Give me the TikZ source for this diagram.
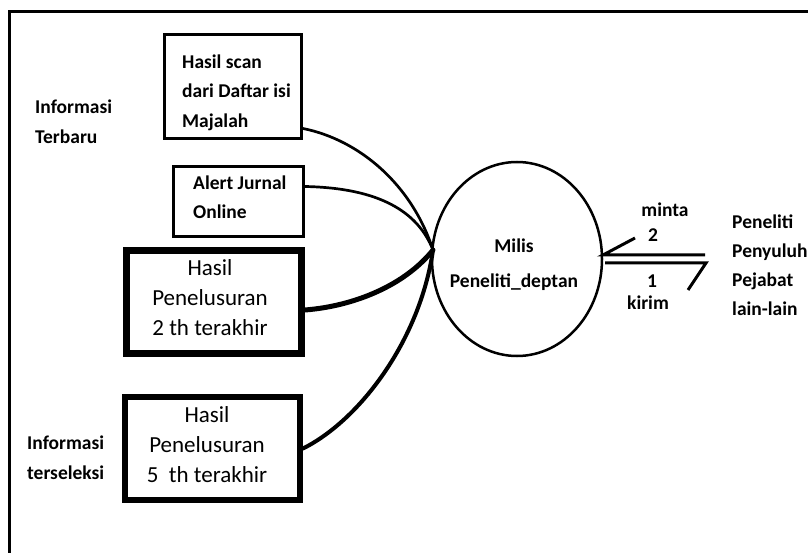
\documentclass[tikz,border=0pt]{standalone}
\usepackage{fontspec}
\setmainfont{Carlito}
\usetikzlibrary{shapes.geometric}
\begin{document}
\begin{tikzpicture}[x=1pt,y=-1pt,
  small/.style={font=\fontsize{19.5}{29.5}\selectfont\bfseries, inner sep=0pt, align=left},
  smallmid/.style={font=\fontsize{19.5}{23}\selectfont\bfseries, inner sep=0pt, align=center},
  big/.style={font=\fontsize{23}{30}\selectfont, inner sep=0pt, align=center},
  boxshape/.style={draw, rectangle, inner sep=0pt},
  link/.style={line cap=round}
]
\useasboundingbox (0,0) rectangle (808,553);
% outer frame (only left and top edges are visible)
\draw[line width=3pt] (9.5,553) -- (9.5,11.5) -- (808,11.5);

% boxes
\node[boxshape, line width=3pt, minimum width=137pt, minimum height=104pt] (b1) at (233,86.5) {};
\node[boxshape, line width=3pt, minimum width=130pt, minimum height=70pt] (b2) at (238.5,201.5) {};
\node[boxshape, line width=7pt, minimum width=175pt, minimum height=103pt] (b3) at (214,302) {};
\node[boxshape, line width=6pt, minimum width=175pt, minimum height=103pt] (b4) at (212.5,448.5) {};

% box texts
\node[small, anchor=west] (t1) at (182,92.5) {Hasil scan\\dari Daftar isi\\Majalah};
\node[small, anchor=west] (t2) at (193,197) {Alert Jurnal\\Online};
\node[big] (t3) at (210,298) {Hasil\\Penelusuran\\2 th terakhir};
\node[big] (t4) at (207,445) {Hasil\\Penelusuran\\5\hspace{0.45em}th terakhir};

% side labels
\node[small, anchor=west, font=\fontsize{19.5}{30}\selectfont\bfseries] (inf1) at (35,122) {Informasi\\Terbaru};
\node[small, anchor=west, font=\fontsize{19.5}{30}\selectfont\bfseries] (inf2) at (27,458) {Informasi\\terseleksi};

% central ellipse
\node[draw, ellipse, line width=2.5pt, minimum width=170pt, minimum height=194pt, inner sep=0pt] (milis) at (517,259) {};
\node[font=\fontsize{19.5}{35}\selectfont\bfseries, inner sep=0pt, align=center] (mt) at (514,264.5) {Milis\\Peneliti\_deptan};

% connectors to the ellipse
\coordinate (hub) at (433,250);
\draw[link, line width=2.7pt] ([yshift=11.5pt]b1.south east) .. controls (360,140) and (412,185) .. (hub);
\draw[link, line width=2.7pt] ([yshift=-21.5pt]b2.north east) .. controls (380,188) and (418,212) .. (hub);
\draw[link, line width=5pt] ([yshift=-8pt]b3.east) .. controls (355,306) and (405,285) .. (hub);
\draw[link, line width=4pt] (b4.east) .. controls (360,420) and (420,340) .. (hub);

% harpoons on the right
\coordinate (a1) at (603,255);
\coordinate (a2) at (705,255);
\coordinate (a3) at (635,238);
\coordinate (k1) at (605,263);
\coordinate (k2) at (706,263);
\coordinate (k3) at (688,290);
\draw[line width=3pt] (a2) -- (a1) -- (a3);
\draw[line width=3pt] (k1) -- (k2) -- (k3);

\node[smallmid] (minta) at (665,210) {minta};
\node[smallmid] (two) at (653,235) {2};
\node[smallmid] (one) at (652,281) {1};
\node[smallmid] (kirim) at (648,303) {kirim};

\node[small, anchor=west, font=\fontsize{19.5}{29}\selectfont\bfseries] (users) at (732,265.5) {Peneliti\\Penyuluh\\Pejabat\\lain-lain};
\end{tikzpicture}
\end{document}
